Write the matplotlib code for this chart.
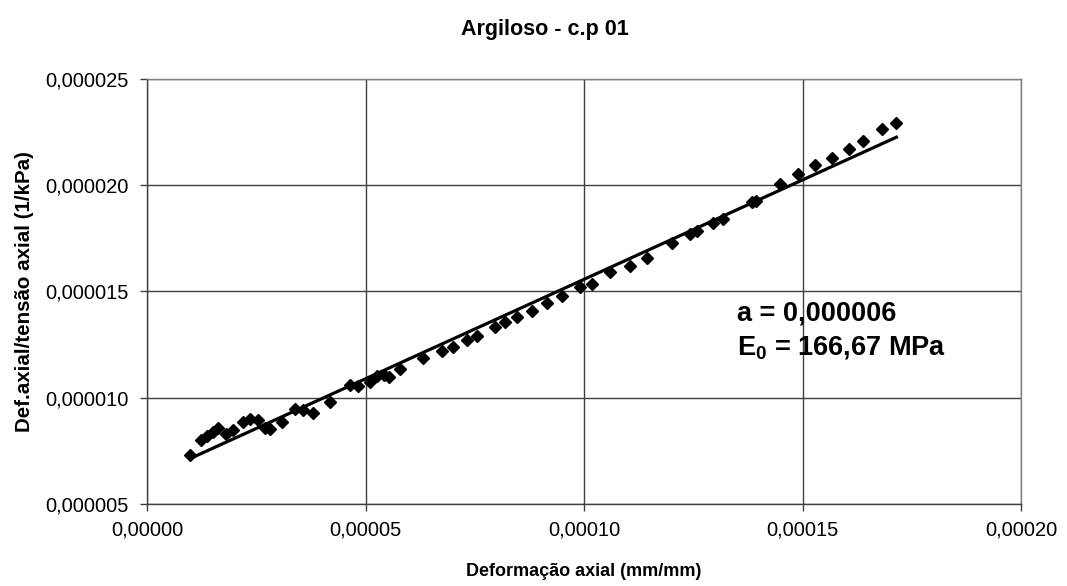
import numpy as np
import matplotlib
matplotlib.use("Agg")
import matplotlib.pyplot as plt
from matplotlib.ticker import FuncFormatter

plt.rcParams['font.family'] = ['Liberation Sans', 'DejaVu Sans']
plt.rcParams['mathtext.fontset'] = 'custom'
plt.rcParams['mathtext.rm'] = 'Liberation Sans'
plt.rcParams['mathtext.bf'] = 'Liberation Sans:bold'

# Ensaio: deformação axial (mm/mm) e razão def. axial / tensão axial (1/kPa)
deformacao = [
    9.84e-6, 1.236e-5, 1.374e-5, 1.511e-5, 1.625e-5, 1.809e-5, 1.969e-5,
    2.198e-5, 2.358e-5, 2.541e-5, 2.701e-5, 2.816e-5, 3.091e-5, 3.388e-5,
    3.571e-5, 3.800e-5, 4.190e-5, 4.647e-5, 4.831e-5, 5.105e-5, 5.266e-5,
    5.426e-5, 5.540e-5, 5.792e-5, 6.319e-5, 6.754e-5, 7.005e-5, 7.326e-5,
    7.555e-5, 7.967e-5, 8.196e-5, 8.471e-5, 8.814e-5, 9.158e-5, 9.501e-5,
    9.913e-5, 1.0188e-4, 1.0600e-4, 1.1058e-4, 1.1447e-4, 1.2019e-4,
    1.2431e-4, 1.2592e-4, 1.2958e-4, 1.3187e-4, 1.3851e-4, 1.3942e-4,
    1.4492e-4, 1.4904e-4, 1.5293e-4, 1.5682e-4, 1.6071e-4, 1.6392e-4,
    1.6827e-4, 1.7148e-4,
]
razao = [
    7.30e-6, 8.01e-6, 8.20e-6, 8.39e-6, 8.57e-6, 8.29e-6, 8.48e-6,
    8.86e-6, 9.00e-6, 8.95e-6, 8.57e-6, 8.53e-6, 8.86e-6, 9.47e-6,
    9.42e-6, 9.28e-6, 9.80e-6, 1.060e-5, 1.055e-5, 1.074e-5, 1.102e-5,
    1.107e-5, 1.097e-5, 1.135e-5, 1.187e-5, 1.220e-5, 1.238e-5, 1.271e-5,
    1.290e-5, 1.333e-5, 1.356e-5, 1.380e-5, 1.408e-5, 1.445e-5, 1.478e-5,
    1.521e-5, 1.535e-5, 1.591e-5, 1.619e-5, 1.657e-5, 1.728e-5,
    1.770e-5, 1.784e-5, 1.822e-5, 1.841e-5, 1.921e-5, 1.925e-5,
    2.005e-5, 2.052e-5, 2.095e-5, 2.127e-5, 2.170e-5, 2.207e-5,
    2.264e-5, 2.292e-5,
]
x_ticks = [0.0, 0.00005, 0.00010, 0.00015, 0.00020]
y_ticks = [0.000005, 0.000010, 0.000015, 0.000020, 0.000025]

x = np.array(deformacao)
y = np.array(razao)

# Ajuste linear (modelo hiperbólico: eps/sigma = a + b*eps)
b, a = np.polyfit(x, y, 1)
a_rounded = round(a, 6)
E0_MPa = 1.0 / a_rounded / 1000.0

fig = plt.figure(figsize=(10.67, 5.86), dpi=100)
ax = fig.add_axes([0.1378, 0.140, 0.8191, 0.7252])

ax.plot(x, y, linestyle='none', marker='D', markersize=6.5,
        color='black', zorder=3)
xf = np.array([x.min(), x.max()])
ax.plot(xf, a + b * xf, color='black', linewidth=2.3, zorder=2)

ax.set_xlim(x_ticks[0], x_ticks[-1])
ax.set_ylim(y_ticks[0], y_ticks[-1])
ax.set_xticks(x_ticks)
ax.set_yticks(y_ticks)
ax.xaxis.set_major_formatter(FuncFormatter(lambda v, p: f"{v:.5f}".replace('.', ',')))
ax.yaxis.set_major_formatter(FuncFormatter(lambda v, p: f"{v:.6f}".replace('.', ',')))
ax.tick_params(axis='both', direction='out', length=5, width=1, color='#404040',
               labelsize=14.5, pad=8)
ax.tick_params(axis='x', pad=7)
ax.grid(True, color='#404040', linewidth=1)
ax.set_axisbelow(True)
for s in ax.spines.values():
    s.set_color('#808080')
    s.set_linewidth(1)
ax.spines['left'].set_color('#404040')
ax.spines['bottom'].set_color('#404040')

ax.set_xlabel('Deformação axial (mm/mm)', fontsize=13, fontweight='bold', labelpad=17)
ax.set_ylabel('Def.axial/tensão axial (1/kPa)', fontsize=14.8, fontweight='bold', labelpad=8)
fig.text(545 / 1067, 1 - 30 / 586, 'Argiloso - c.p 01', ha='center', va='center',
         fontsize=15.5, fontweight='bold')

txt_a = f"a = {a_rounded:.6f}".replace('.', ',')
txt_E = r"E$_{\mathbf{0}}$ = " + f"{E0_MPa:.2f}".replace('.', ',') + " MPa"
ax.text(0.675, 0.447, txt_a, transform=ax.transAxes, fontsize=19.5,
        fontweight='bold', va='center', ha='left')
ax.text(0.675, 0.369, txt_E, transform=ax.transAxes, fontsize=19.5,
        fontweight='bold', va='center', ha='left')

fig.savefig('out.png', dpi=100)
